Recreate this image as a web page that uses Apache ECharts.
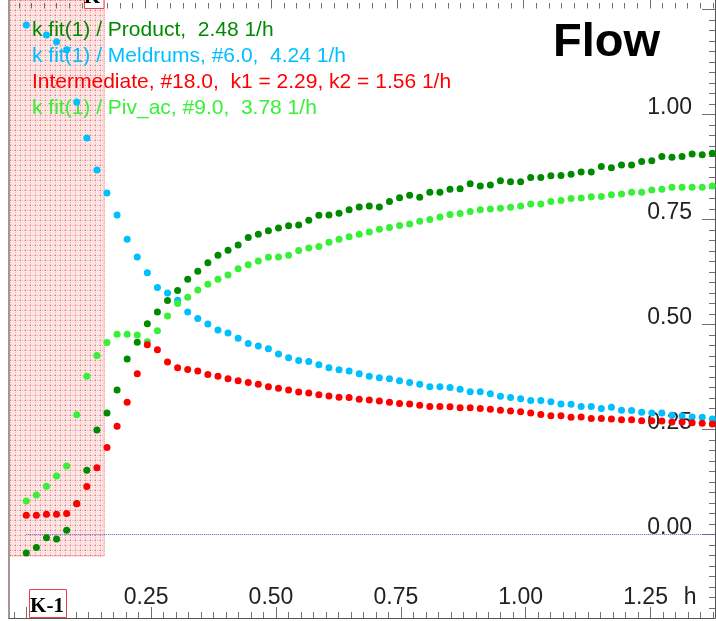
<!DOCTYPE html>
<html><head><meta charset="utf-8">
<script src="https://cdn.jsdelivr.net/npm/echarts@6/dist/echarts.min.js"></script>
<style>html,body{margin:0;padding:0;background:#fff}#c{width:716px;height:621px}</style>
</head><body><div id="c"></div>
<script>
// time in hours
const times = [0,0.0202,0.0404,0.0606,0.0808,0.101,0.1212,0.1414,0.1616,0.1818,0.202,0.2222,0.2424,0.2626,0.2828,0.303,0.3232,0.3434,0.3636,0.3838,0.404,0.4242,0.4444,0.4646,0.4848,0.505,0.5252,0.5454,0.5656,0.5858,0.606,0.6262,0.6464,0.6666,0.6868,0.707,0.7272,0.7474,0.7676,0.7878,0.808,0.8282,0.8484,0.8686,0.8888,0.909,0.9292,0.9494,0.9696,0.9898,1.01,1.0302,1.0504,1.0706,1.0908,1.111,1.1312,1.1514,1.1716,1.1918,1.212,1.2322,1.2524,1.2726,1.2928,1.313,1.3332,1.3534,1.3736];
const product = [-0.044,-0.031,-0.008,-0.011,0.010,0.074,0.153,0.249,0.289,0.344,0.418,0.458,0.502,0.530,0.557,0.581,0.608,0.627,0.647,0.665,0.677,0.689,0.707,0.715,0.723,0.730,0.735,0.737,0.748,0.760,0.761,0.765,0.773,0.780,0.782,0.780,0.793,0.802,0.808,0.803,0.815,0.815,0.822,0.823,0.835,0.830,0.832,0.842,0.840,0.840,0.850,0.850,0.854,0.855,0.858,0.863,0.863,0.876,0.873,0.880,0.880,0.888,0.890,0.900,0.898,0.900,0.906,0.904,0.908];
const meldrums = [1.213,null,1.189,1.173,1.154,1.030,0.944,0.868,0.813,0.761,0.703,0.661,0.623,0.588,0.575,0.558,0.530,0.514,0.501,0.487,0.480,0.467,0.455,0.449,0.442,0.430,0.421,0.414,0.412,0.404,0.397,0.392,0.389,0.383,0.377,0.373,0.371,0.366,0.362,0.358,0.352,0.352,0.350,0.346,0.340,0.340,0.335,0.329,0.326,0.323,0.319,0.319,0.316,0.311,0.310,0.305,0.305,0.300,0.303,0.296,0.295,0.291,0.289,0.289,0.284,0.282,0.280,0.279,0.275];
const intermediate = [0.046,0.046,0.048,0.048,0.050,0.073,0.114,0.159,0.207,0.258,0.315,0.383,0.452,0.440,0.411,0.397,0.393,0.389,0.381,0.377,0.371,0.366,0.362,0.358,0.352,0.348,0.344,0.339,0.337,0.333,0.330,0.327,0.326,0.322,0.320,0.318,0.315,0.312,0.311,0.308,0.305,0.305,0.304,0.302,0.302,0.300,0.298,0.296,0.294,0.292,0.289,0.286,0.283,0.283,0.279,0.280,0.276,0.276,0.275,0.273,0.273,0.271,0.271,0.270,0.268,0.268,0.266,0.265,0.263];
const pivac = [0.080,0.094,0.115,0.139,0.163,0.285,0.377,0.426,0.457,0.477,0.477,0.475,0.459,0.485,0.520,0.550,0.565,0.582,0.596,0.608,0.618,0.633,0.642,0.651,0.660,0.661,0.665,0.676,0.682,0.686,0.696,0.703,0.709,0.715,0.720,0.727,0.731,0.736,0.739,0.746,0.750,0.756,0.762,0.764,0.769,0.773,0.775,0.777,0.779,0.782,0.787,0.787,0.793,0.795,0.800,0.801,0.804,0.805,0.809,0.811,0.815,0.815,0.820,0.822,0.827,0.827,0.827,0.827,0.830];

const legendTexts = [
  'k fit(1) / Product,  2.48 1/h',
  'k fit(1) / Meldrums, #6.0,  4.24 1/h',
  'Intermediate, #18.0,  k1 = 2.29, k2 = 1.56 1/h',
  'k fit(1) / Piv_ac, #9.0,  3.78 1/h'
];
const titleText = 'Flow';
const xMajorTicks = [0, 0.25, 0.5, 0.75, 1.0, 1.25];
const xLabelValues = [0.25, 0.5, 0.75, 1.0, 1.25];
const yMajorTicks = [0, 0.25, 0.5, 0.75, 1.0, 1.25];
const yLabelValues = [0, 0.25, 0.5, 0.75, 1.0];
const topMajorTicks = [0.25, 0.5, 0.75, 1.0, 1.25];
const shadeEnd = 0.156, shadeBottom = -0.051;

const X_MIN = -0.0346, X_MAX = 1.379, Y_MIN = -0.1988, Y_MAX = 1.2726;
const T_MIN = -0.0194, T_MAX = 1.379;

function minorTicks(from, to, step, majors) {
  const out = [];
  for (let k = Math.round(from / step); k * step <= to + 1e-9; k++) {
    const v = +(k * step).toFixed(4);
    if (!majors.some(m => Math.abs(m - v) < 1e-6)) out.push(v);
  }
  return out;
}
const xMinor = minorTicks(-0.025, 1.375, 0.025, xMajorTicks);
const yMinor = minorTicks(-0.175, 1.25, 0.025, yMajorTicks);
const topMinor = minorTicks(0, 1.375, 0.025, topMajorTicks);

const colors = { product: '#008a00', meldrums: '#00bfff', intermediate: '#ff0000', pivac: '#38f038' };

function pts(vals) {
  const out = [];
  vals.forEach((v, i) => { if (v !== null) out.push([times[i], v]); });
  return out;
}

// dotted pink pattern
const tile = document.createElement('canvas');
tile.width = 5; tile.height = 5;
const g = tile.getContext('2d');
g.fillStyle = '#fce6e6'; g.fillRect(0, 0, 5, 5);
g.fillStyle = '#f5b4b4';
for (let i = 0; i < 5; i += 2) { g.fillRect(i, 0, 1, 1); g.fillRect(0, i, 1, 1); }
g.fillStyle = '#ea7070'; g.fillRect(0, 0, 1, 1);

const chart = echarts.init(document.getElementById('c'), null, { renderer: 'canvas' });
const gridBox = { left: 9, right: 1, top: 0, bottom: 3 };
const labelFont = { fontFamily: '"Liberation Sans", Arial, sans-serif', fontSize: 23, color: '#222' };
const noLine = { show: false, onZero: false };
const tickColor = '#707070';

const option = {
  animation: false,
  backgroundColor: '#fff',
  grid: [0, 1, 2, 3].map(() => Object.assign({ containLabel: false }, gridBox)),
  xAxis: [
    { gridIndex: 0, type: 'value', min: X_MIN, max: X_MAX, position: 'bottom',
      axisLine: { show: true, onZero: false, lineStyle: { color: '#555', width: 1 } },
      axisTick: { show: true, inside: true, length: 11, customValues: xMajorTicks, lineStyle: { color: tickColor } },
      axisLabel: Object.assign({ show: true, inside: true, margin: 8.5, customValues: xLabelValues,
        formatter: v => v.toFixed(2), lineHeight: 23, padding: [0, 10, 0, 0], align: 'center' }, labelFont),
      splitLine: { show: false },
      name: 'h', nameLocation: 'end', nameGap: -36,
      nameTextStyle: Object.assign({ verticalAlign: 'bottom', lineHeight: 23, padding: [0, 0, 8.5, 0], align: 'left' }, labelFont)
    },
    { gridIndex: 1, type: 'value', min: X_MIN, max: X_MAX, position: 'bottom',
      axisLine: noLine, axisLabel: { show: false }, splitLine: { show: false },
      axisTick: { show: true, inside: true, length: 6, customValues: xMinor, lineStyle: { color: tickColor } } },
    { gridIndex: 2, type: 'value', min: T_MIN, max: T_MAX, position: 'top', offset: -8.5,
      axisLine: noLine, axisLabel: { show: false }, splitLine: { show: false },
      axisTick: { show: true, inside: false, length: 8.5, customValues: topMajorTicks, lineStyle: { color: tickColor } } },
    { gridIndex: 3, type: 'value', min: T_MIN, max: T_MAX, position: 'top', offset: -8.5,
      axisLine: noLine, axisLabel: { show: false }, splitLine: { show: false },
      axisTick: { show: true, inside: false, length: 5.5, customValues: topMinor, lineStyle: { color: tickColor } } }
  ],
  yAxis: [
    { gridIndex: 0, type: 'value', min: Y_MIN, max: Y_MAX, position: 'right',
      axisLine: { show: true, onZero: false, lineStyle: { color: '#555', width: 1 } },
      axisTick: { show: true, inside: true, length: 13, customValues: yMajorTicks, lineStyle: { color: tickColor } },
      axisLabel: Object.assign({ show: true, inside: true, margin: 23, customValues: yLabelValues,
        formatter: v => v.toFixed(2), verticalAlign: 'bottom', lineHeight: 14, align: 'right' }, labelFont),
      splitLine: { show: false } },
    { gridIndex: 1, type: 'value', min: Y_MIN, max: Y_MAX, position: 'right',
      axisLine: noLine, axisLabel: { show: false }, splitLine: { show: false },
      axisTick: { show: true, inside: true, length: 6, customValues: yMinor, lineStyle: { color: tickColor } } },
    { gridIndex: 2, type: 'value', min: Y_MIN, max: Y_MAX, position: 'left',
      axisLine: { show: true, onZero: false, lineStyle: { color: '#a89494', width: 2 } },
      axisTick: { show: false }, axisLabel: { show: false }, splitLine: { show: false } },
    { gridIndex: 3, type: 'value', min: Y_MIN, max: Y_MAX, show: false, axisLine: noLine, splitLine: { show: false } }
  ],
  series: [
    { type: 'line', xAxisIndex: 0, yAxisIndex: 0, data: [], z: -1, silent: true,
      markArea: { silent: true, z: -1,
        itemStyle: { color: { image: tile, repeat: 'repeat' }, opacity: 1, borderColor: '#f06060', borderWidth: 1, borderType: 'dotted' },
        data: [[{ coord: [X_MIN, Y_MAX] }, { coord: [shadeEnd, shadeBottom] }]] } },
    { type: 'line', xAxisIndex: 0, yAxisIndex: 0, data: [], z: 1, silent: true,
      markLine: { silent: true, symbol: 'none', z: 1, label: { show: false },
        lineStyle: { color: '#5a5ae0', type: [1, 1], width: 1 },
        data: [[{ coord: [0, 0] }, { coord: [X_MAX, 0] }]] } },
    { name: 'Meldrums', type: 'scatter', data: pts(meldrums), symbolSize: 7, z: 2, itemStyle: { color: colors.meldrums, opacity: 1 } },
    { name: 'Product', type: 'scatter', data: pts(product), symbolSize: 7, z: 3, itemStyle: { color: colors.product, opacity: 1 } },
    { name: 'Piv_ac', type: 'scatter', data: pts(pivac), symbolSize: 7, z: 4, itemStyle: { color: colors.pivac, opacity: 1 } },
    { name: 'Intermediate', type: 'scatter', data: pts(intermediate), symbolSize: 7, z: 5, itemStyle: { color: colors.intermediate, opacity: 1 } }
  ],
  graphic: [
    { type: 'text', x: 32, y: 30, z: 1, silent: true, style: { text: legendTexts[0], fill: colors.product, font: '21px "Liberation Sans", Arial, sans-serif', verticalAlign: 'middle' } },
    { type: 'text', x: 32, y: 56, z: 1, silent: true, style: { text: legendTexts[1], fill: colors.meldrums, font: '21px "Liberation Sans", Arial, sans-serif', verticalAlign: 'middle' } },
    { type: 'text', x: 32, y: 82, z: 1, silent: true, style: { text: legendTexts[2], fill: colors.intermediate, font: '21px "Liberation Sans", Arial, sans-serif', verticalAlign: 'middle' } },
    { type: 'text', x: 32, y: 108, z: 1, silent: true, style: { text: legendTexts[3], fill: colors.pivac, font: '21px "Liberation Sans", Arial, sans-serif', verticalAlign: 'middle' } },
    { type: 'text', x: 553, y: 43, z: 10, silent: true, style: { text: titleText, fill: '#000', font: 'bold 47px "Liberation Sans", Arial, sans-serif', verticalAlign: 'middle' } },
    { type: 'rect', z: 100, silent: true, shape: { x: 29.5, y: 589.5, width: 37, height: 28 }, style: { fill: '#fff', stroke: '#f04040', lineWidth: 1 } },
    { type: 'text', z: 101, silent: true, x: 47, y: 607, style: { text: 'K-1', fill: '#000', font: 'bold 21px "Liberation Serif", "Times New Roman", serif', align: 'center', verticalAlign: 'middle' } },
    { type: 'rect', z: 100, silent: true, shape: { x: 84.5, y: -20, width: 19.5, height: 28.5 }, style: { fill: '#fff', stroke: '#f04040', lineWidth: 1 } },
    { type: 'text', z: 101, silent: true, x: 92, y: -2, style: { text: 'K', fill: '#000', font: 'bold 21px "Liberation Serif", "Times New Roman", serif', align: 'center', verticalAlign: 'middle' } }
  ]
};
chart.setOption(option);
</script>
</body></html>
